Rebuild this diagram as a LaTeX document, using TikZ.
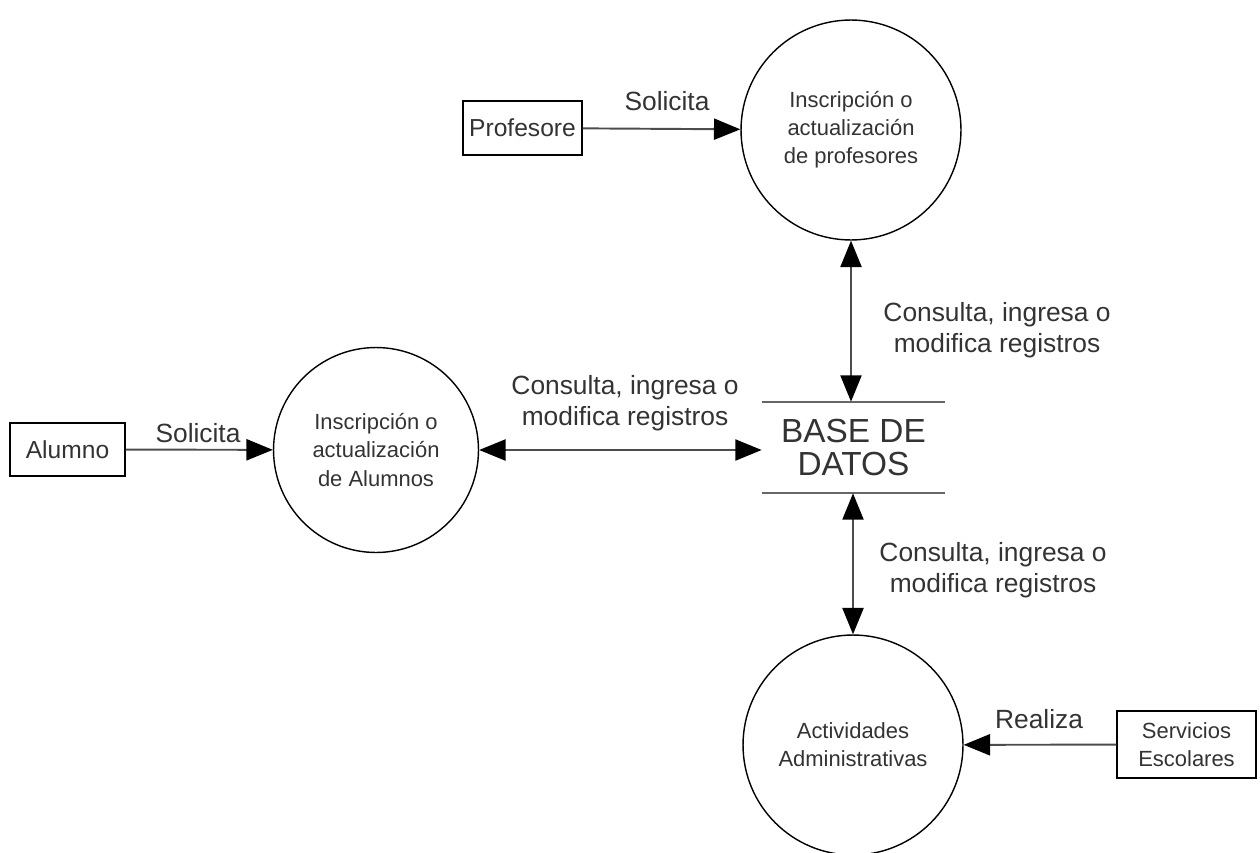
\documentclass[tikz,border=0pt]{standalone}
\usepackage{fontspec}
\setmainfont{Liberation Sans}
\usetikzlibrary{arrows.meta}

\begin{document}
\begin{tikzpicture}[x=0.02cm,y=-0.02cm,
  every node/.style={inner sep=0pt,text=black!80},
  proc/.style={draw=black,line width=0.8pt,circle,align=center,font=\fontsize{12.5}{16}\selectfont},
  ent/.style={draw=black,line width=0.8pt,rectangle,align=center,font=\fontsize{14}{16}\selectfont},
  flow/.style={draw=black!70,line width=1.1pt,-{Triangle[length=15pt,width=12pt,color=black]}},
  dflow/.style={draw=black!70,line width=1.1pt,{Triangle[length=15pt,width=12pt,color=black]}-{Triangle[length=15pt,width=12pt,color=black]}},
  lbl/.style={align=center,font=\fontsize{15}{17.5}\selectfont}]
\useasboundingbox (0,0) rectangle (1260,852);
% entidades y procesos
\node [ent,minimum width=2.38cm,minimum height=1.08cm] (prof) at (522.5,128) {Profesore};
\node [proc,minimum size=4.4cm] (topc) at (851,130) {Inscripción o\\actualización\\de profesores};
\node [ent,minimum width=2.3cm,minimum height=1.06cm] (alum) at (67.5,449.5) {Alumno};
\node [proc,minimum size=4.1cm] (leftc) at (376,450) {Inscripción o\\actualización\\de Alumnos};
\node [align=center,minimum width=3.66cm,minimum height=1.82cm,font=\fontsize{19}{18.5}\selectfont] (db) at (853.5,447.5) {BASE DE\\DATOS};
\node [proc,minimum size=4.4cm] (botc) at (853,745) {Actividades\\Administrativas};
\node [ent,minimum width=2.78cm,minimum height=1.34cm,font=\fontsize{12.5}{16}\selectfont] (serv) at (1186.5,744.5) {Servicios\\Escolares};
% almacen
\draw [black!60,line width=1.1pt] (db.north west) -- (db.north east);
\draw [black!60,line width=1.1pt] (db.south west) -- (db.south east);
% flujos
\draw [flow] (prof) -- (topc);
\draw [flow] (alum) -- (leftc);
\draw [dflow] (leftc) -- (leftc -| db.west);
\draw [dflow] (topc.south) -- (topc.south |- db.north);
\draw [dflow] (botc.north |- db.south) -- (botc.north);
\draw [flow] (serv) -- (botc);
% etiquetas
\node [lbl] (l1) at (667,101) {Solicita};
\node [lbl] (l2) at (198,433) {Solicita};
\node [lbl] (l3) at (625,403) {Consulta, ingresa o\\modifica registros};
\node [lbl] (l4) at (997,330) {Consulta, ingresa o\\modifica registros};
\node [lbl] (l5) at (993,570) {Consulta, ingresa o\\modifica registros};
\node [lbl] (l6) at (1039,719) {Realiza};
\end{tikzpicture}
\end{document}
